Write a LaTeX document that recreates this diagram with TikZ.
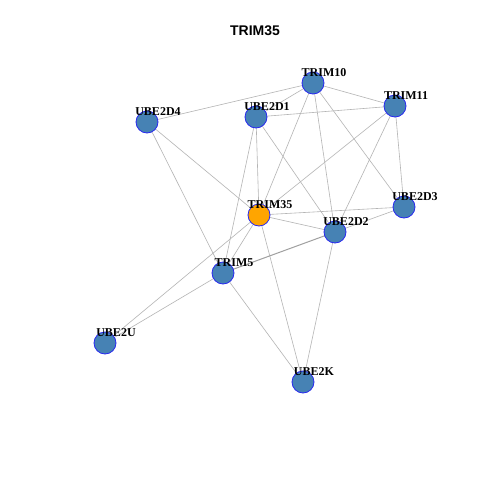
\documentclass[tikz,border=0pt]{standalone}
\usepackage{fontspec}
\setmainfont{Liberation Serif}
\newfontfamily\titlefont{Liberation Sans}
\definecolor{steel}{RGB}{70,130,180}
\definecolor{orng}{RGB}{255,165,0}
\definecolor{edgegray}{RGB}{180,180,180}
\begin{document}
\begin{tikzpicture}[x=1pt,y=-1pt,
  vert/.style={circle,draw={rgb,255:red,40;green,40;blue,240},line width=0.8pt,fill=steel,minimum size=22pt,inner sep=0pt},
  seed/.style={vert,fill=orng},
  lab/.style={font=\bfseries\fontsize{12}{12}\selectfont,inner sep=0pt},
  edge/.style={draw=edgegray,line width=0.6pt}]
\useasboundingbox (0,0) rectangle (480,480);
\fill[white] (0,0) rectangle (480,480);
\node[font=\titlefont\bfseries\fontsize{14}{14}\selectfont] (title) at (255,31) {TRIM35};
\coordinate (TRIM10) at (313,83);
\coordinate (TRIM11) at (395,106);
\coordinate (UBE2D4) at (147,122);
\coordinate (UBE2D1) at (256,117);
\coordinate (TRIM35) at (259,215);
\coordinate (UBE2D3) at (404,207);
\coordinate (UBE2D2) at (335,232);
\coordinate (TRIM5) at (223,273);
\coordinate (UBE2U) at (105,343);
\coordinate (UBE2K) at (303,382);
\foreach \a/\b in {TRIM10/UBE2D4,TRIM10/UBE2D1,TRIM10/TRIM11,TRIM10/TRIM35,TRIM10/UBE2D2,TRIM10/UBE2D3,
  TRIM11/UBE2D1,TRIM11/TRIM35,TRIM11/UBE2D2,TRIM11/UBE2D3,UBE2D4/TRIM35,UBE2D4/TRIM5,
  UBE2D1/TRIM35,UBE2D1/UBE2D2,UBE2D1/TRIM5,TRIM35/UBE2D3,TRIM35/UBE2D2,TRIM35/TRIM5,
  TRIM35/UBE2U,TRIM35/UBE2K,UBE2D2/UBE2D3,UBE2D2/UBE2K,TRIM5/UBE2U,TRIM5/UBE2K}
  \draw[edge] (\a) -- (\b);
\draw[edge,line width=1pt,draw={rgb,255:red,160;green,160;blue,160}] (UBE2D2) -- (TRIM5);
\foreach \n in {TRIM10,TRIM11,UBE2D4,UBE2D1,UBE2D3,UBE2D2,TRIM5,UBE2U,UBE2K}
  \node[vert] (n\n) at (\n) {};
\node[seed] (nTRIM35) at (TRIM35) {};
\foreach \n in {TRIM10,TRIM11,UBE2D4,UBE2D1,TRIM35,UBE2D3,UBE2D2,TRIM5,UBE2U,UBE2K}
  \node[lab] (l\n) at ([xshift=11pt,yshift=10pt]\n) {\n};
\end{tikzpicture}
\end{document}
